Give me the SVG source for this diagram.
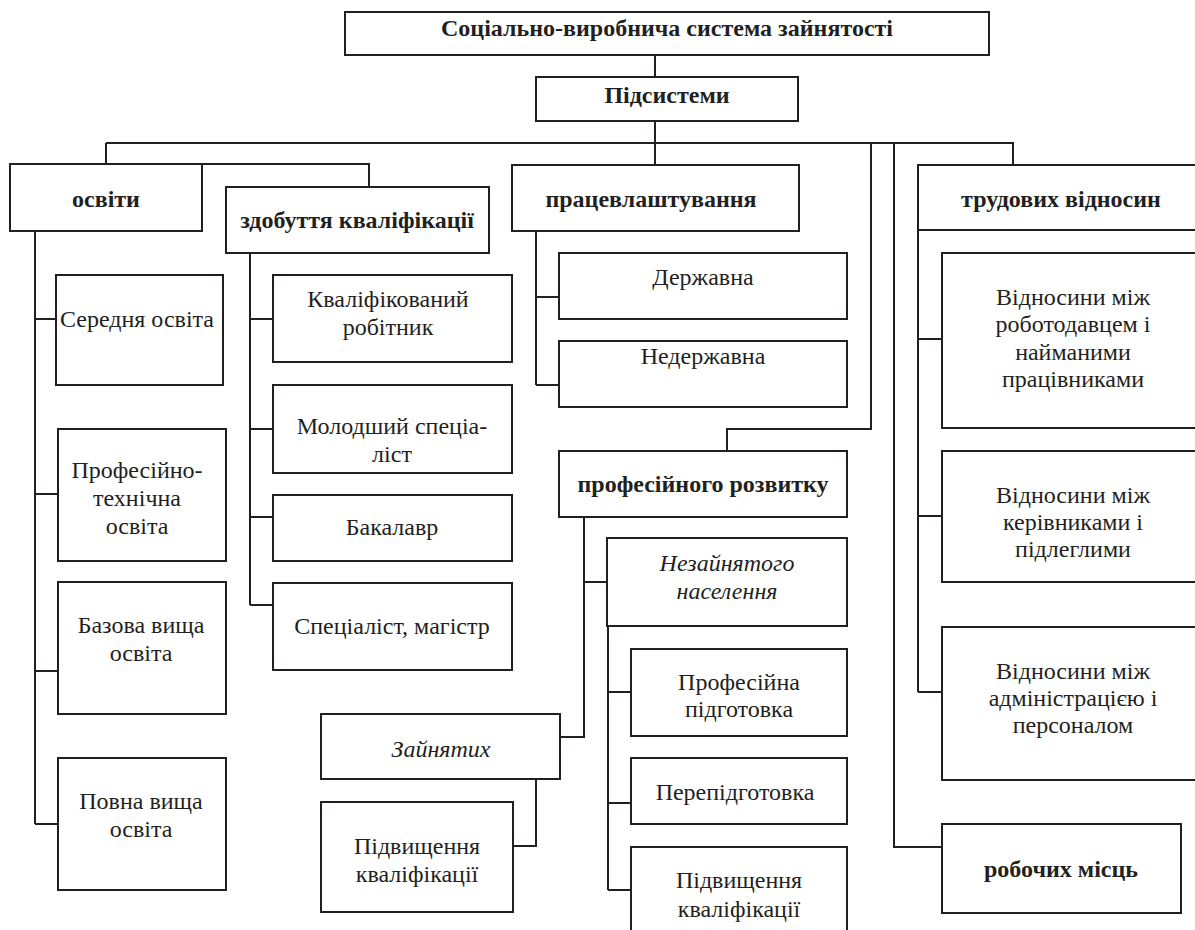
<svg xmlns="http://www.w3.org/2000/svg" width="1195" height="930" viewBox="0 0 1195 930">
<style>
.b{fill:#fff;stroke:#231f20;stroke-width:2}
.l{fill:none;stroke:#231f20;stroke-width:2}
text{font-family:"Liberation Serif","Times New Roman","DejaVu Serif",serif;font-size:24px;fill:#231f20;text-anchor:middle}
.h{font-weight:bold}
.i{font-style:italic}
</style>
<rect width="1195" height="930" fill="#fff"/>
<g id="connectors">
<path class="l" d="M655,55V165M106,143H1013V165M106,143V164M202,164H369V187M871,143V429H727V451M894,143V847H942"/>
<path class="l" d="M35,231V824M35,319H56M35,494H58M35,671H58M35,824H58"/>
<path class="l" d="M250,253V605M250,319H273M250,429H273M250,517H273M250,605H273"/>
<path class="l" d="M536,231V385M536,297H559M536,385H559"/>
<path class="l" d="M584,517V737H560M584,582H607"/>
<path class="l" d="M608,626V890M608,692H631M608,803H631M608,890H631"/>
<path class="l" d="M536,779V846H513"/>
<path class="l" d="M918,230V692M918,339H942M918,516H942M918,692H942"/>
</g>
<g id="root"><rect class="b" x="345" y="12" width="644" height="43"/><text class="h" x="667" y="36">Соціально-виробнича система зайнятості</text></g>
<g id="pidsystemy"><rect class="b" x="536" y="77" width="262" height="44"/><text class="h" x="667" y="103">Підсистеми</text></g>
<g id="osvity"><rect class="b" x="10" y="164" width="192" height="67"/><text class="h" x="106" y="207">освіти</text></g>
<g id="zdobuttia"><rect class="b" x="226" y="187" width="263" height="66"/><text class="h" x="357" y="228">здобуття кваліфікації</text></g>
<g id="pratsevl"><rect class="b" x="512" y="165" width="287" height="66"/><text class="h" x="651" y="207">працевлаштування</text></g>
<g id="trudovykh"><rect class="b" x="918" y="165" width="290" height="65"/><text class="h" x="1061" y="207">трудових відносин</text></g>
<g id="serednia"><rect class="b" x="56" y="275" width="167" height="110"/><text x="137" y="327">Середня освіта</text></g>
<g id="proftekh"><rect class="b" x="58" y="429" width="168" height="132"/><text x="137" y="478">Професійно-</text><text x="137" y="506">технічна</text><text x="137" y="534">освіта</text></g>
<g id="bazova"><rect class="b" x="58" y="582" width="168" height="132"/><text x="141" y="633">Базова вища</text><text x="141" y="661">освіта</text></g>
<g id="povna"><rect class="b" x="58" y="758" width="168" height="132"/><text x="141" y="809">Повна вища</text><text x="141" y="837">освіта</text></g>
<g id="kvalif"><rect class="b" x="273" y="275" width="239" height="87"/><text x="388" y="307">Кваліфікований</text><text x="388" y="335">робітник</text></g>
<g id="molodshyi"><rect class="b" x="273" y="385" width="239" height="88"/><text x="392" y="434">Молодший спеціа-</text><text x="392" y="462">ліст</text></g>
<g id="bakalavr"><rect class="b" x="273" y="495" width="239" height="66"/><text x="392" y="535">Бакалавр</text></g>
<g id="spetsialist"><rect class="b" x="273" y="583" width="239" height="87"/><text x="392" y="634">Спеціаліст, магістр</text></g>
<g id="derzhavna"><rect class="b" x="559" y="253" width="288" height="66"/><text x="703" y="285">Державна</text></g>
<g id="nederzhavna"><rect class="b" x="559" y="341" width="288" height="66"/><text x="703" y="364">Недержавна</text></g>
<g id="profrozv"><rect class="b" x="559" y="451" width="288" height="66"/><text class="h" x="703" y="492">професійного розвитку</text></g>
<g id="nezainiatoho"><rect class="b" x="607" y="538" width="240" height="88"/><text class="i" x="727" y="571">Незайнятого</text><text class="i" x="727" y="599">населення</text></g>
<g id="profpidg"><rect class="b" x="631" y="649" width="216" height="87"/><text x="739" y="690">Професійна</text><text x="739" y="717">підготовка</text></g>
<g id="perepidg"><rect class="b" x="631" y="758" width="216" height="66"/><text x="735" y="800">Перепідготовка</text></g>
<g id="pidvyshch2"><rect class="b" x="631" y="847" width="216" height="90"/><text x="739" y="888">Підвищення</text><text x="739" y="917">кваліфікації</text></g>
<g id="zainiatykh"><rect class="b" x="321" y="714" width="239" height="65"/><text class="i" x="441" y="757">Зайнятих</text></g>
<g id="pidvyshch1"><rect class="b" x="321" y="802" width="192" height="110"/><text x="417" y="854">Підвищення</text><text x="417" y="882">кваліфікації</text></g>
<g id="vidn1"><rect class="b" x="942" y="253" width="266" height="175"/><text x="1073" y="305">Відносини між</text><text x="1073" y="332">роботодавцем і</text><text x="1073" y="360">найманими</text><text x="1073" y="387">працівниками</text></g>
<g id="vidn2"><rect class="b" x="942" y="451" width="266" height="131"/><text x="1073" y="503">Відносини між</text><text x="1073" y="530">керівниками і</text><text x="1073" y="557">підлеглими</text></g>
<g id="vidn3"><rect class="b" x="942" y="627" width="266" height="153"/><text x="1073" y="679">Відносини між</text><text x="1073" y="706">адміністрацією і</text><text x="1073" y="733">персоналом</text></g>
<g id="robochykh"><rect class="b" x="942" y="824" width="239" height="89"/><text class="h" x="1061" y="877">робочих місць</text></g>
</svg>
